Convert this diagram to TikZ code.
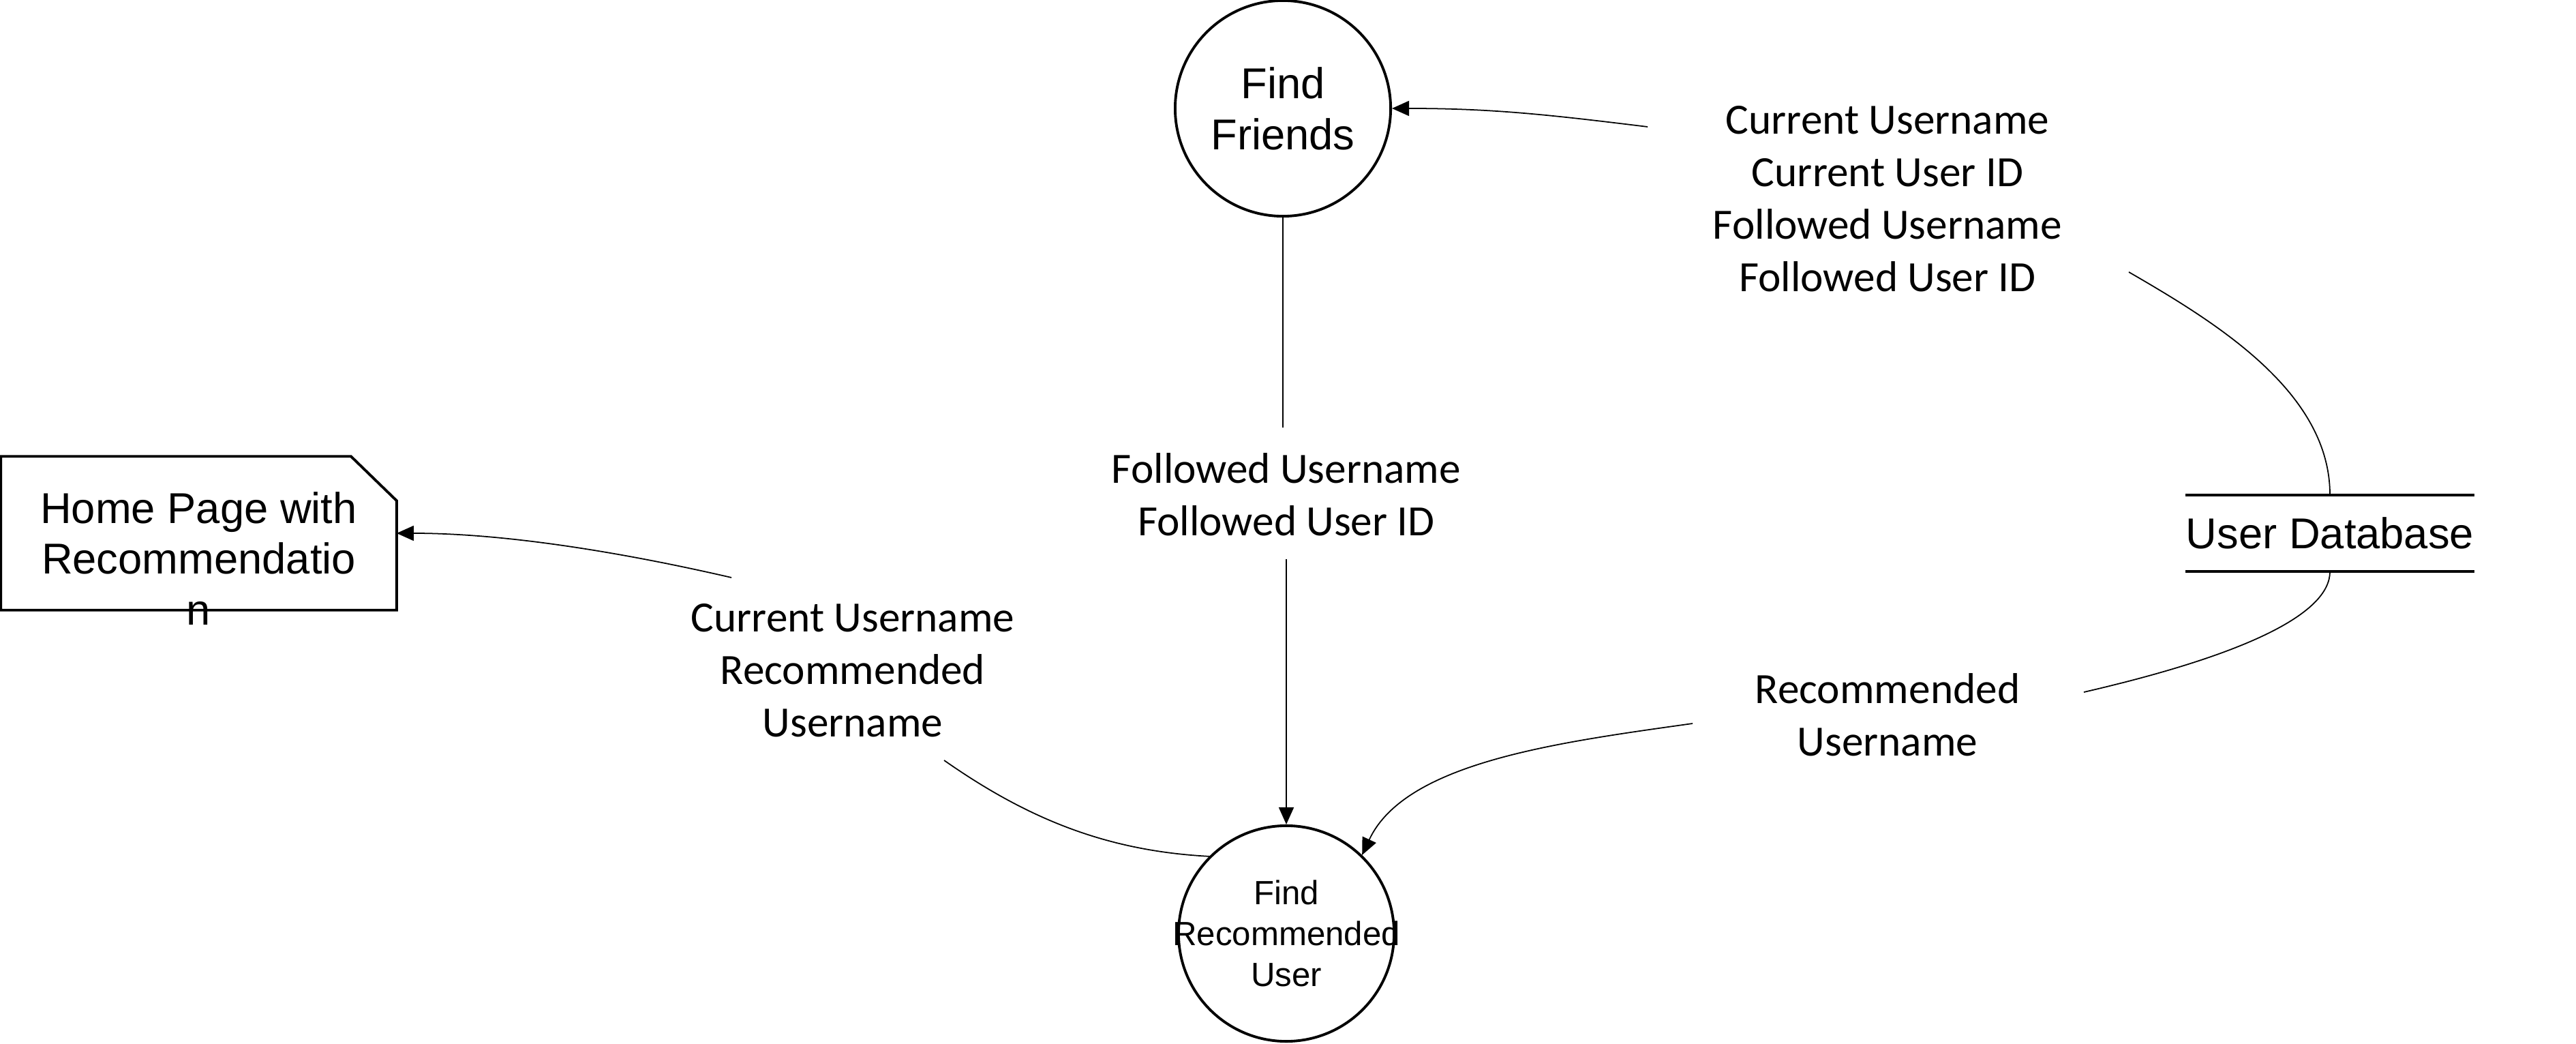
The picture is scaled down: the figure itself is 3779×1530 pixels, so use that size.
\documentclass[tikz,border=0pt]{standalone}
\usepackage{fontspec}
\setmainfont{Liberation Sans}
\newfontfamily\flowfont{Carlito}
\usetikzlibrary{arrows.meta}

\begin{document}
\begin{tikzpicture}[x=0.01cm,y=0.01cm,
  process/.style={circle,draw,line width=1.1pt,minimum size=3.16cm,inner sep=0pt,align=center,
    font=\fontsize{18}{21.3}\selectfont},
  flowlabel/.style={align=center,inner sep=0pt,font=\flowfont\fontsize{18}{21.9}\selectfont},
  dataline/.style={line width=0.5pt},
  flow/.style={line width=0.5pt,-{Triangle[length=0.25cm,width=0.22cm]}}]
\useasboundingbox (0,0) rectangle (3779,1530);

% processes
\node (ff) [process] at (1882,1371) {Find\\Friends};
\node (fru) [process] at (1887,161) {};
\node (frutext) [align=center,font=\fontsize{14}{17}\selectfont] at (fru.center) {Find\\Recommended\\User};

% external entity
\node (home) [minimum width=5.79cm,minimum height=2.24cm,inner sep=0pt] at (291.5,748) {};
\draw [line width=1.1pt] (home.south west) -- (home.north west) -- ([xshift=-0.67cm]home.north east)
  -- ([yshift=-0.65cm]home.north east) -- (home.south east) -- cycle;
\node (hometext) [align=center,font=\fontsize{18}{21.3}\selectfont] at ([yshift=-0.37cm]home.center)
  {Home Page with\\Recommendatio\\n};

% data store
\node (db) [minimum width=4.2cm,minimum height=1.11cm,inner sep=0pt,font=\fontsize{18}{21.3}\selectfont]
  at (3418,748) {User Database};
\draw [line width=1.1pt] (db.north west) -- (db.north east);
\draw [line width=1.1pt] (db.south west) -- (db.south east);

% flow labels
\node (lblA) [flowlabel] at (2769,1238) {Current Username\\Current User ID\\Followed Username\\Followed User ID};
\node (lblB) [flowlabel] at (1887,805) {Followed Username\\Followed User ID};
\node (lblC) [flowlabel] at (1251,547) {Current Username\\Recommended\\Username};
\node (lblD) [flowlabel] at (2769,482) {Recommended\\Username};

\coordinate (aIn) at (2417,1344);
\coordinate (aOut) at (3123,1131);
\coordinate (bIn) at (1882,903);
\coordinate (bOut) at (1887,710);
\coordinate (cIn) at (1385,415);
\coordinate (cOut) at (1073,683);
\coordinate (dIn) at (3057,515);
\coordinate (dOut) at (2483,469);

% flows
\draw [dataline] (db.north) to[out=90,in=-30,out distance=1.5cm,in distance=1.5cm] (aOut);
\draw [flow] (aIn) to[out=173,in=0] (ff.east);
\draw [dataline] (ff.south) -- (bIn);
\draw [flow] (bOut) -- (fru.north);
\draw [dataline] (db.south) to[out=-90,in=13,out distance=0.6cm,in distance=2.5cm] (dIn);
\draw [flow] (dOut) to[out=188,in=65,out distance=2cm,in distance=1.5cm] (fru.46);
\draw [dataline] (fru.135) to[out=177,in=-35,out distance=1.5cm,in distance=1.5cm] (cIn);
\draw [flow] (cOut) to[out=167,in=0,out distance=1.8cm,in distance=1.5cm] (home.east);
\end{tikzpicture}
\end{document}
